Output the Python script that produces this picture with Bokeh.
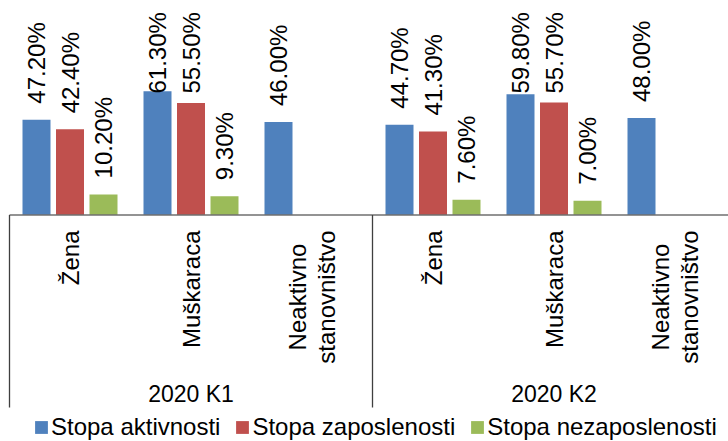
import math
from bokeh.plotting import figure
from bokeh.models import ColumnDataSource, Range1d, Legend, LegendItem
from bokeh.core.properties import value
from bokeh.embed import file_html
from bokeh.resources import INLINE

# ---- data ----
groups = ["2020 K1", "2020 K2"]
categories = ["Žena", "Muškaraca", "Neaktivno\nstanovništvo"]
series_names = ["Stopa aktivnosti", "Stopa zaposlenosti", "Stopa nezaposlenosti"]
stopa_aktivnosti = [47.2, 61.3, 46.0, 44.7, 59.8, 48.0]
stopa_zaposlenosti = [42.4, 55.5, None, 41.3, 55.7, None]
stopa_nezaposlenosti = [10.2, 9.3, None, 7.6, 7.0, None]
colors = ["#4F81BD", "#C0504D", "#9BBB59"]

# ---- layout constants ----
FONT = "Liberation Sans"
FS = "24px"
W, H = 728, 441
PX = 2.02            # pixels per percentage point
BASE_FY = 214.5      # baseline position from the top of the frame (px)
CAT_PX = 121.0       # width of one category slot (px)
LEFT_PX = 9.0        # left divider position (px)
y_top = BASE_FY / PX
y_bot = -(H - BASE_FY) / PX
x_start = -LEFT_PX / CAT_PX
x_end = (W - LEFT_PX) / CAT_PX

p = figure(width=W, height=H, output_backend="svg", toolbar_location=None,
           x_axis_type=None, y_axis_type=None,
           x_range=Range1d(x_start, x_end), y_range=Range1d(y_bot, y_top),
           min_border=0)
p.outline_line_color = None
p.background_fill_color = "white"
p.border_fill_color = "white"

series_values = [stopa_aktivnosti, stopa_zaposlenosti, stopa_nezaposlenosti]
BAR_STEP = 33.5 / CAT_PX
BAR_W = 28 / CAT_PX
LABEL_GAP = 16 / PX
LABEL_LEN = 81 / PX
LABEL_CAP = (BASE_FY - 12) / PX - LABEL_LEN

renderers = []
lx, ly, lt = [], [], []
for s, vals in enumerate(series_values):
    xs, tops = [], []
    for i, v in enumerate(vals):
        if v is None:
            continue
        x = i + 0.5 + (s - 1) * BAR_STEP
        xs.append(x)
        tops.append(v)
        lx.append(x)
        ly.append(min(v + LABEL_GAP, LABEL_CAP))
        lt.append(f"{v:.2f}%")
    src = ColumnDataSource(dict(x=xs, top=tops))
    r = p.vbar(x="x", top="top", bottom=0, width=BAR_W, source=src,
               fill_color=colors[s], line_color=None)
    renderers.append(r)

# data labels
p.text(x=lx, y=ly, text=lt, angle=math.pi / 2, text_align="left",
       text_baseline="middle", text_font=value(FONT), text_font_size=FS,
       text_color="#000000")

# baseline (category axis line)
p.segment(x0=[0], y0=[0], x1=[x_end], y1=[0], line_color="#6f6f6f", line_width=1.3)

# group dividers
n_cat = len(categories)
div_x = [g * n_cat for g in range(len(groups) + 1)]
div_bottom = -(407 - BASE_FY) / PX
p.segment(x0=div_x, y0=[0] * len(div_x), x1=div_x, y1=[div_bottom] * len(div_x),
          line_color="#3f3f3f", line_width=1.3)

# category labels (rotated, ending 15.5px below the baseline; multi-line ones centred)
CAT_TOP = -15.5 / PX
MULTI_BLOCK = 133 / PX
sx, st, mx, mt = [], [], [], []
for g in range(len(groups)):
    for c, name in enumerate(categories):
        if "\n" in name:
            mx.append(g * n_cat + c + 0.5)
            mt.append(name)
        else:
            sx.append(g * n_cat + c + 0.5)
            st.append(name)
p.text(x=sx, y=[CAT_TOP] * len(sx), text=st, angle=math.pi / 2,
       text_align="right", text_baseline="middle",
       text_font=value(FONT), text_font_size=FS, text_color="#000000")
p.text(x=mx, y=[CAT_TOP - MULTI_BLOCK / 2] * len(mx), text=mt, angle=math.pi / 2,
       text_align="center", text_baseline="middle", text_line_height=1.05,
       text_font=value(FONT), text_font_size=FS, text_color="#000000")

# group labels
gx = [g * n_cat + n_cat / 2 for g in range(len(groups))]
p.text(x=gx, y=[-(393 - BASE_FY) / PX] * len(gx), text=groups,
       text_align="center", text_baseline="middle",
       text_font=value(FONT), text_font_size="23px", text_color="#000000")

legend = Legend(items=[LegendItem(label=n, renderers=[r]) for n, r in zip(series_names, renderers)],
                orientation="horizontal", location=(33, 0),
                label_text_font=FONT, label_text_font_size=FS, label_text_color="#000000",
                glyph_width=16, glyph_height=16, label_standoff=2, spacing=14,
                padding=0, margin=0, border_line_color=None, background_fill_alpha=0)
p.add_layout(legend)

open("out.html", "w").write(file_html(p, INLINE))
